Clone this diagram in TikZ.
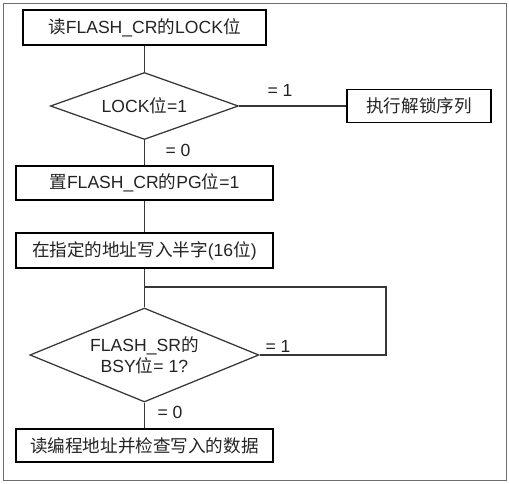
\documentclass[tikz,border=0pt]{standalone}
\usepackage{fontspec}
\setmainfont{Liberation Sans}
\newfontfamily\cjk{Noto Sans CJK SC}
\newcommand{\zh}[1]{{\cjk #1}}
\definecolor{linea}{RGB}{55,55,55}
\definecolor{marco}{RGB}{110,110,110}
\definecolor{texto}{RGB}{35,35,35}
\usetikzlibrary{shapes.geometric,positioning}

\begin{document}
\begin{tikzpicture}[
    caja/.style={draw=black,line width=1.4pt,minimum height=0.86cm,
                 inner sep=2pt,font=\fontsize{12.5}{15}\selectfont,text=texto},
    rombo/.style={draw=linea,diamond,line width=0.9pt,inner sep=0pt,
                  align=center,font=\fontsize{12.5}{15}\selectfont,text=texto},
    etiq/.style={font=\fontsize{12.5}{15}\selectfont,text=texto},
    flujo/.style={linea,line width=0.8pt}]
      % marco
      \draw[marco,line width=0.7pt] (0.075,-0.075) rectangle (12.65,-12.0);
      \useasboundingbox (0,0) rectangle (12.725,-12.1);

      \node[caja,minimum width=6.08cm] (leer) at (3.61,-0.69)
            {\zh{读}FLASH\_CR\zh{的}LOCK\zh{位}};
      \node[rombo,aspect=2.8,minimum width=4.7cm,minimum height=1.675cm]
            (lock) at (3.61,-2.65) {LOCK\zh{位}=1};
      \node[caja,minimum width=3.6cm,minimum height=0.825cm]
            (desb) at (10.475,-2.65) {\zh{执行解锁序列}};
      \node[caja,minimum width=6.425cm] (pg) at (3.61,-4.575)
            {\zh{置}FLASH\_CR\zh{的}PG\zh{位}=1};
      \node[caja,minimum width=6.425cm] (escr) at (3.61,-6.2625)
            {\zh{在指定的地址写入半字}(16\zh{位})};
      \node[rombo,aspect=2.44,minimum width=5.725cm,minimum height=2.35cm]
            (bsy) at (3.61,-8.875) {FLASH\_SR\zh{的}\\BSY\zh{位}= 1?};
      \node[caja,minimum width=6.425cm,minimum height=0.825cm]
            (verif) at (3.61,-11.1375) {\zh{读编程地址并检查写入的数据}};

      \coordinate (giro) at (9.65,-7.175);

      \draw[flujo] (leer) -- (lock);
      \draw[flujo] (lock) -- (desb);
      \draw[flujo] (lock) -- (pg);
      \draw[flujo] (pg)   -- (escr);
      \draw[flujo] (escr) -- (bsy);
      \draw[flujo] (bsy.east) -| (giro) -- (escr.south |- giro);
      \draw[flujo] (bsy)  -- (verif);

      \node[etiq] (uno1)  at (7.0,-2.25)  {= 1};
      \node[etiq] (cero1) at (4.45,-3.75) {= 0};
      \node[etiq] (uno2)  at (6.95,-8.65) {= 1};
      \node[etiq] (cero2) at (4.25,-10.3) {= 0};
    \end{tikzpicture}
\end{document}
